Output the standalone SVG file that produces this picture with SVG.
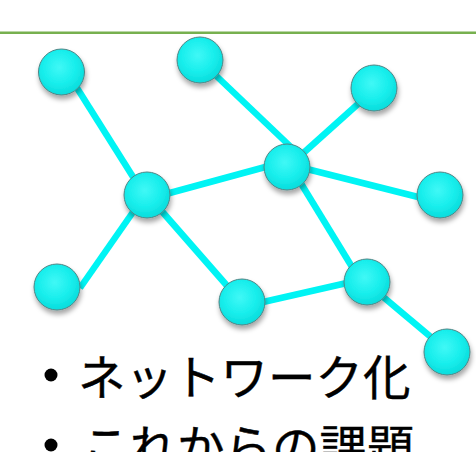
<svg xmlns="http://www.w3.org/2000/svg" width="476" height="452" viewBox="0 0 476 452">
  <defs>
    <radialGradient id="ball" cx="45%" cy="40%" r="60%">
      <stop offset="0" stop-color="#40f8f6"/>
      <stop offset="0.6" stop-color="#18eeec"/>
      <stop offset="1" stop-color="#0adcdc"/>
    </radialGradient>
    <filter id="shadow" x="-40%" y="-40%" width="180%" height="190%">
      <feDropShadow dx="1" dy="4" stdDeviation="2.5" flood-color="#000" flood-opacity="0.35"/>
    </filter>
    <style>
      .edge { stroke: #00f4f4; stroke-width: 6.5; stroke-linecap: butt; fill: none; }
      .node circle { fill: url(#ball); stroke: #4f8585; stroke-width: 1; filter: url(#shadow); }
      .label { font-family: "Noto Sans CJK JP", "Noto Sans", sans-serif; font-size: 47.5px; fill: #000; stroke: #000; stroke-width: 0.4; }
    </style>
  </defs>

  <rect width="476" height="452" fill="#fff"/>

  <!-- header rule -->
  <rect x="0" y="31.5" width="476" height="2.5" fill="#77b04f"/>

  <!-- connectors -->
  <g id="connectors">
    <line class="edge" x1="72" y1="80" x2="140" y2="188"/>
    <line class="edge" x1="208" y1="68" x2="292" y2="148"/>
    <line class="edge" x1="368" y1="95" x2="290" y2="165"/>
    <line class="edge" x1="155" y1="197" x2="280" y2="163"/>
    <line class="edge" x1="295" y1="166" x2="430" y2="200"/>
    <line class="edge" x1="140" y1="202" x2="80" y2="288"/>
    <line class="edge" x1="152" y1="200" x2="236" y2="296"/>
    <line class="edge" x1="294" y1="172" x2="360" y2="280"/>
    <line class="edge" x1="250" y1="305" x2="360" y2="280"/>
    <line class="edge" x1="375" y1="290" x2="438" y2="343"/>
  </g>

  <!-- nodes -->
  <g id="n1" class="node"><circle cx="61.5" cy="72" r="23"/></g>
  <g id="n2" class="node"><circle cx="200" cy="60" r="23"/></g>
  <g id="n3" class="node"><circle cx="374" cy="88" r="23"/></g>
  <g id="n4" class="node"><circle cx="147" cy="195" r="23"/></g>
  <g id="n5" class="node"><circle cx="287" cy="167" r="23"/></g>
  <g id="n6" class="node"><circle cx="440" cy="195" r="23"/></g>
  <g id="n7" class="node"><circle cx="57" cy="287" r="23"/></g>
  <g id="n8" class="node"><circle cx="242" cy="302" r="23"/></g>
  <g id="n9" class="node"><circle cx="367" cy="282" r="23"/></g>
  <g id="n10" class="node"><circle cx="447" cy="352" r="23"/></g>

  <!-- bullet list -->
  <g id="bullets">
    <circle cx="51" cy="375" r="6.5" fill="#000"/>
    <text class="label" x="78" y="395">ネットワーク化</text>
    <circle cx="51" cy="445" r="6.5" fill="#000"/>
    <text class="label" x="82" y="465">これからの課題</text>
  </g>
</svg>
